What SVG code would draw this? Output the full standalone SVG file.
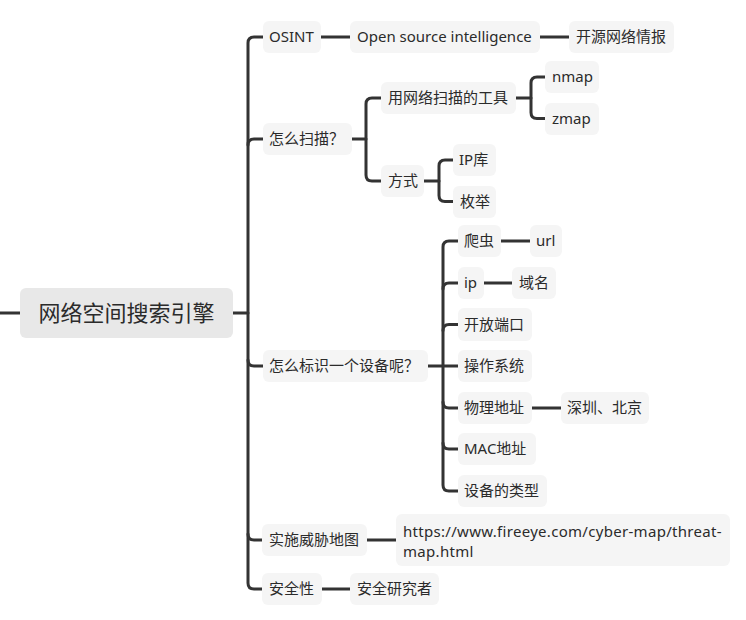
<svg xmlns="http://www.w3.org/2000/svg" width="746" height="620" viewBox="0 0 746 620">
<style>
.n{fill:#f5f5f5}
.r{fill:#e8e8e8}
text{font-family:"Noto Sans","Noto Sans CJK SC",sans-serif;font-size:15px;fill:#2b2b2b}
.rt{font-size:22px}
.u{letter-spacing:0.3px}
.c path{fill:none;stroke:#333;stroke-width:3;stroke-linecap:round}
</style>
<rect width="746" height="620" fill="#fff"/>
<g class="c" id="connectors">
<path d="M0,313 H20"/>
<path d="M233,313 H248"/>
<path d="M263,37 H254 Q248,37 248,43 V583 Q248,589 254,589 H262"/>
<path d="M248,145 Q248,139 254,139 H263"/>
<path d="M248,360 Q248,366 254,366 H263"/>
<path d="M248,534 Q248,540 254,540 H262"/>
<path d="M321,37 H350"/>
<path d="M540,37 H569"/>
<path d="M352,139 H366"/>
<path d="M381,98 H372 Q366,98 366,104 V175 Q366,181 372,181 H381"/>
<path d="M516,98 H531"/>
<path d="M545,77 H537 Q531,77 531,83 V112.5 Q531,118.5 537,118.5 H545"/>
<path d="M424,181 H439"/>
<path d="M453,160 H445 Q439,160 439,166 V195.5 Q439,201.5 445,201.5 H453"/>
<path d="M428,366 H458"/>
<path d="M458,241 H449 Q443,241 443,247 V485 Q443,491 449,491 H458"/>
<path d="M443,289 Q443,283 449,283 H458"/>
<path d="M443,330.5 Q443,324.5 449,324.5 H458"/>
<path d="M443,402 Q443,408 449,408 H458"/>
<path d="M443,443 Q443,449 449,449 H458"/>
<path d="M501,241 H530"/>
<path d="M484,283 H512"/>
<path d="M532,408 H561"/>
<path d="M367,540 H396"/>
<path d="M322,589 H350"/>
</g>
<g id="root"><rect class="r" x="20" y="288" width="213" height="50" rx="6"/><text class="rt" x="126.5" y="321" text-anchor="middle">网络空间搜索引擎</text></g>
<g id="osint"><rect class="n" x="263" y="21" width="58" height="32" rx="6"/><text x="269" y="42">OSINT</text></g>
<g id="osi"><rect class="n" x="350" y="21" width="190" height="32" rx="6"/><text x="357" y="42">Open source intelligence</text></g>
<g id="kaiyuan"><rect class="n" x="569" y="21" width="105" height="32" rx="6"/><text x="576" y="42">开源网络情报</text></g>
<g id="scan"><rect class="n" x="263" y="123" width="89" height="32" rx="6"/><text x="269" y="144">怎么扫描？</text></g>
<g id="tool"><rect class="n" x="381" y="82" width="135" height="32" rx="6"/><text x="388" y="103">用网络扫描的工具</text></g>
<g id="nmap"><rect class="n" x="545" y="61" width="54" height="32" rx="6"/><text x="552" y="82">nmap</text></g>
<g id="zmap"><rect class="n" x="545" y="103" width="54" height="32" rx="6"/><text x="552" y="123.5">zmap</text></g>
<g id="fangshi"><rect class="n" x="381" y="165" width="43" height="32" rx="6"/><text x="388" y="186">方式</text></g>
<g id="ipku"><rect class="n" x="453" y="144" width="43" height="32" rx="6"/><text x="459" y="165">IP库</text></g>
<g id="meiju"><rect class="n" x="453" y="186" width="43" height="32" rx="6"/><text x="460" y="206.5">枚举</text></g>
<g id="ident"><rect class="n" x="263" y="350" width="165" height="32" rx="6"/><text x="269" y="371">怎么标识一个设备呢？</text></g>
<g id="pachong"><rect class="n" x="458" y="225" width="43" height="32" rx="6"/><text x="464" y="246">爬虫</text></g>
<g id="url"><rect class="n" x="530" y="225" width="32" height="32" rx="6"/><text x="536" y="246">url</text></g>
<g id="ip"><rect class="n" x="458" y="267" width="26" height="32" rx="6"/><text x="464" y="288">ip</text></g>
<g id="yuming"><rect class="n" x="512" y="267" width="44" height="32" rx="6"/><text x="519" y="288">域名</text></g>
<g id="port"><rect class="n" x="458" y="308" width="74" height="33" rx="6"/><text x="464" y="329.5">开放端口</text></g>
<g id="os"><rect class="n" x="458" y="350" width="74" height="32" rx="6"/><text x="464" y="371">操作系统</text></g>
<g id="addr"><rect class="n" x="458" y="392" width="74" height="32" rx="6"/><text x="464" y="413">物理地址</text></g>
<g id="city"><rect class="n" x="561" y="392" width="88" height="32" rx="6"/><text x="567" y="413">深圳、北京</text></g>
<g id="mac"><rect class="n" x="458" y="433" width="78" height="32" rx="6"/><text x="464" y="454">MAC地址</text></g>
<g id="type"><rect class="n" x="458" y="475" width="89" height="32" rx="6"/><text x="464" y="496">设备的类型</text></g>
<g id="threat"><rect class="n" x="262" y="524" width="105" height="32" rx="6"/><text x="269" y="545">实施威胁地图</text></g>
<g id="fireeye"><rect class="n" x="396" y="514" width="334" height="52" rx="6"/><text class="u" x="403" y="537">https://www.fireeye.com/cyber-map/threat-</text><text class="u" x="403" y="557">map.html</text></g>
<g id="safe"><rect class="n" x="262" y="573" width="60" height="32" rx="6"/><text x="269" y="594">安全性</text></g>
<g id="researcher"><rect class="n" x="350" y="573" width="89" height="32" rx="6"/><text x="357" y="594">安全研究者</text></g>
</svg>
